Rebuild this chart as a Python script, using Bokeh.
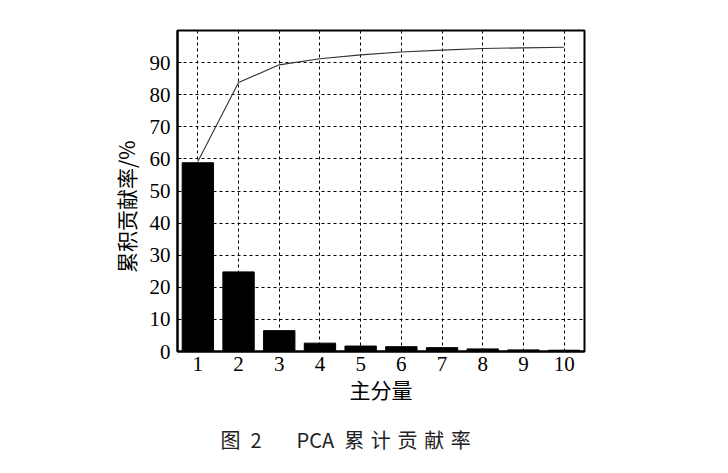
from bokeh.plotting import figure
from bokeh.models import FixedTicker, Range1d, Title, ColumnDataSource
from bokeh.embed import file_html
from bokeh.resources import INLINE

components = [1, 2, 3, 4, 5, 6, 7, 8, 9, 10]
contribution = [58.8, 24.8, 6.5, 2.6, 1.7, 1.5, 1.2, 0.8, 0.5, 0.4]
cumulative = [59.2, 83.8, 89.3, 91.2, 92.4, 93.3, 93.9, 94.4, 94.6, 94.8]
y_ticks = [0, 10, 20, 30, 40, 50, 60, 70, 80, 90]
x_label = "主分量"
y_label = "累积贡献率/%\u2003\u2002"
caption = ("图\u2005\u20052\u3000\u2002\u2005PCA\u2002累\u2004计\u2004贡"
           "\u2004献\u2004率")

W, H = 712, 470
p = figure(width=W, height=H, output_backend="svg", toolbar_location=None,
           x_range=Range1d(0.5, 10.5), y_range=Range1d(0, 100),
           min_border_left=177, min_border_right=W - 584, min_border_top=30,
           min_border_bottom=H - 353)
p.background_fill_color = "white"
p.border_fill_color = "white"
p.outline_line_color = "black"
p.outline_line_width = 2

src = ColumnDataSource(dict(x=components, top=contribution, cum=cumulative))
p.vbar(x="x", top="top", width=0.77, source=src, fill_color="black",
       line_color="black")
p.line(x="x", y="cum", source=src, line_color="#333333", line_width=1.1)

serif = "Liberation Serif"
cjk = "Noto Sans CJK SC"

p.xaxis.ticker = FixedTicker(ticks=components)
p.yaxis.ticker = FixedTicker(ticks=y_ticks)
for ax in (p.xaxis, p.yaxis):
    ax.axis_line_color = "black"
    ax.axis_line_width = 2
    ax.major_tick_in = 4
    ax.major_tick_out = 0
    ax.minor_tick_line_color = None
    ax.major_label_text_font = serif
    ax.major_label_text_font_size = "21px"
    ax.major_label_text_color = "black"
    ax.axis_label_text_font = cjk
    ax.axis_label_text_font_size = "21px"
    ax.axis_label_text_font_style = "normal"
    ax.axis_label_text_color = "black"
p.xaxis.major_tick_in = 0
p.xaxis.major_label_standoff = 5
p.yaxis.major_label_standoff = 7
p.xaxis.axis_label = x_label
p.yaxis.axis_label = y_label
p.xaxis.axis_label_standoff = 0
p.yaxis.axis_label_standoff = 6

p.grid.grid_line_color = "black"
p.grid.grid_line_dash = "3 3"
p.grid.grid_line_width = 1
p.xgrid.ticker = FixedTicker(ticks=components)
p.ygrid.ticker = FixedTicker(ticks=y_ticks)

p.add_layout(Title(text=caption, text_font=cjk, text_font_size="20px",
                   text_font_style="normal", text_color="#222222",
                   align="left", offset=43, standoff=33), "below")

open("out.html", "w").write(file_html(p, INLINE))
